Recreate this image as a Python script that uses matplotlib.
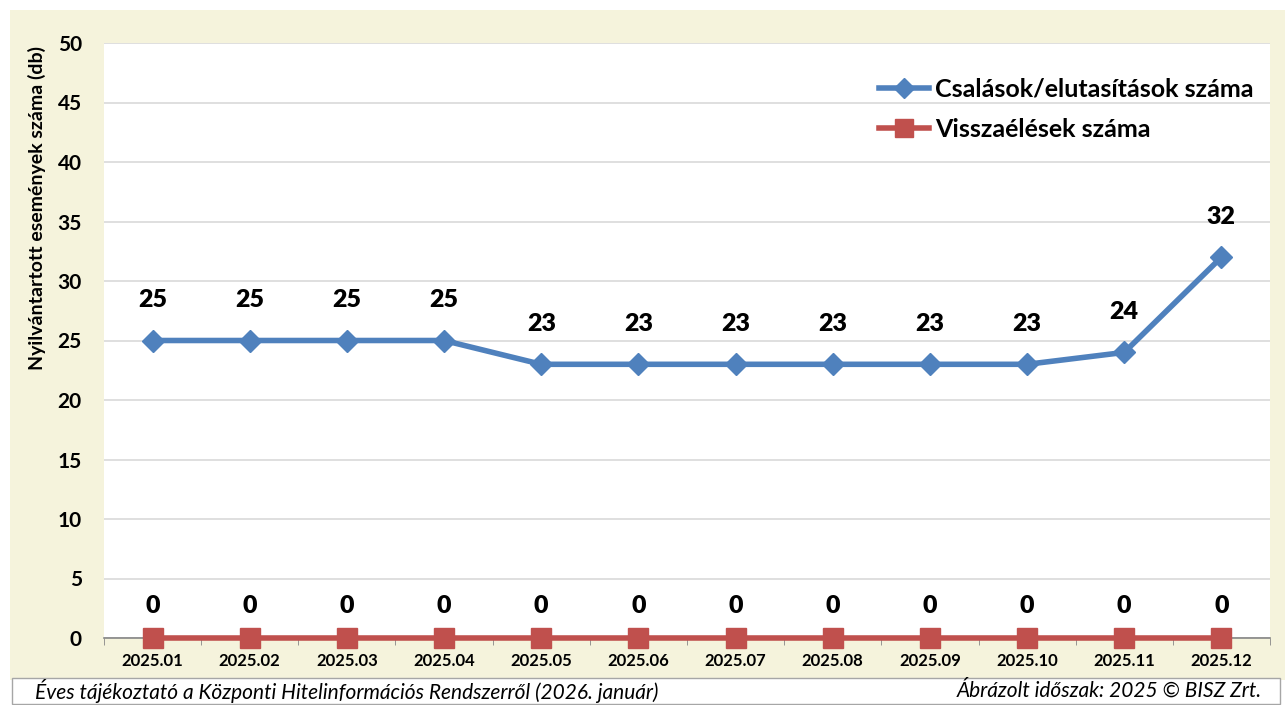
import matplotlib.pyplot as plt
from matplotlib.patches import Rectangle

honapok = ['2025.01', '2025.02', '2025.03', '2025.04', '2025.05', '2025.06',
           '2025.07', '2025.08', '2025.09', '2025.10', '2025.11', '2025.12']
csalasok = [25, 25, 25, 25, 23, 23, 23, 23, 23, 23, 24, 32]
visszaelesek = [0, 0, 0, 0, 0, 0, 0, 0, 0, 0, 0, 0]

plt.rcParams['font.family'] = ['Lato', 'DejaVu Sans']

fig = plt.figure(figsize=(12.85, 7.05), dpi=100)
W, H = 1285, 705

# bezs hatter es lablec doboz
fig.patches.append(Rectangle((10 / W, 25 / H), 1275 / W, 670 / H, transform=fig.transFigure,
                             facecolor='#F5F3DC', edgecolor='none', zorder=-10))
fig.patches.append(Rectangle((12 / W, 1 / H), 1268 / W, 26 / H, transform=fig.transFigure,
                             facecolor='white', edgecolor='#A6A6A6', lw=1, zorder=-5))

ax = fig.add_axes([104 / W, (H - 638) / H, (1270 - 104) / W, (638 - 43) / H])
ax.set_zorder(1)
x = list(range(len(honapok)))

ax.plot(x, csalasok, color='#4F81BD', lw=4, marker='D', markersize=11,
        label='Csalások/elutasítások száma', zorder=3, clip_on=False)
ax.plot(x, visszaelesek, color='#C0504D', lw=4, marker='s', markersize=15,
        label='Visszaélések száma', zorder=4, clip_on=False)

for i, v in enumerate(csalasok):
    ax.annotate(str(v), (i, v), xytext=(0, 21), textcoords='offset points',
                ha='center', va='bottom', fontsize=18, fontweight='heavy')
for i, v in enumerate(visszaelesek):
    ax.annotate(str(v), (i, v), xytext=(0, 15), textcoords='offset points',
                ha='center', va='bottom', fontsize=18, fontweight='heavy')

ax.set_xlim(-0.5, len(honapok) - 0.5)
ax.set_ylim(0, 50)
ax.set_yticks(range(0, 51, 5))
ax.set_xticks(x)
ax.set_xticklabels(honapok, fontsize=12, fontweight='bold')
ax.set_xticks([i + 0.5 for i in range(-1, len(honapok))], minor=True)
ax.tick_params(axis='x', which='major', length=0, pad=11)
ax.tick_params(axis='x', which='minor', length=5, color='#868686', direction='out')
ax.tick_params(axis='y', length=0, labelsize=15, pad=16)
for lbl in ax.get_yticklabels():
    lbl.set_fontweight('bold')

ax.grid(axis='y', color='#D9D9D9', lw=1.2)
ax.set_axisbelow(True)
for s in ['top', 'right', 'left']:
    ax.spines[s].set_visible(False)
ax.spines['bottom'].set_color('#868686')
ax.spines['bottom'].set_linewidth(1.2)
ax.set_facecolor('white')

ax.set_ylabel('Nyilvántartott események száma (db)', fontsize=14, fontweight='bold')
ax.yaxis.set_label_coords(-0.05, 0.723)

leg = ax.legend(loc='upper right', bbox_to_anchor=(1.005, 0.98), frameon=False,
                prop={'size': 18, 'weight': 'bold'}, handlelength=2.0, handletextpad=0.25,
                labelspacing=0.7, markerscale=0.9)

fig.text(35 / W, 14 / H, 'Éves tájékoztató a Központi Hitelinformációs Rendszerről (2026. január)',
         fontsize=15, style='italic', va='center', ha='left')
fig.text(1262 / W, 14 / H, 'Ábrázolt időszak: 2025 © BISZ Zrt.',
         fontsize=15, style='italic', va='center', ha='right')

fig.savefig('out.png', dpi=100)
